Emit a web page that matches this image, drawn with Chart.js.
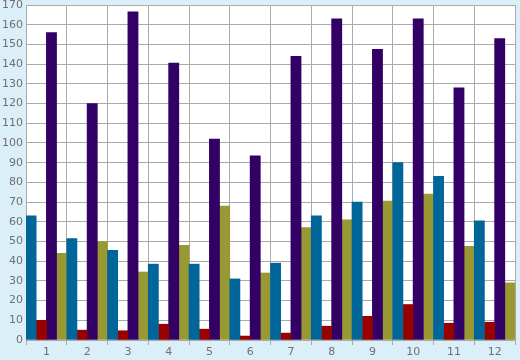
<!DOCTYPE html>
<html>
<head>
<meta charset="utf-8">
<script src="https://cdn.jsdelivr.net/npm/chart.js@4/dist/chart.umd.min.js"></script>
<style>
  body { margin: 0; background: #daeff7; }
  #wrap { width: 520px; height: 360px; }
</style>
</head>
<body>
<div id="wrap"><canvas id="barCanvas" width="520" height="360"></canvas></div>
<script>
// catégories et séries
const categories = ["1", "2", "3", "4", "5", "6", "7", "8", "9", "10", "11", "12"];
const blueValues = [63, 51.5, 45.5, 38.5, 38.5, 31, 39, 63, 70, 90, 83, 60.5];
const redValues = [10, 5, 4.7, 8, 5.5, 2, 3.5, 7, 12, 18, 8.5, 9];
const purpleValues = [156, 120, 166.5, 140.5, 102, 93.5, 144, 163, 147.5, 163, 128, 153];
const oliveValues = [44, 50, 34.5, 48, 68, 34, 57, 61, 70.5, 74, 47.5, 29];
const yMin = 0;
const yMax = 170;
const yStep = 10;

// fond blanc de la zone de tracé
const plotBackground = {
    id: "plotBackground",
    beforeDraw(chart) {
        const { ctx, chartArea } = chart;
        ctx.save();
        ctx.fillStyle = "#ffffff";
        ctx.fillRect(chartArea.left, chartArea.top, chartArea.right - chartArea.left, chartArea.bottom - chartArea.top);
        ctx.restore();
    }
};

const barCanvas = document.getElementById("barCanvas");

const barChart = new Chart(barCanvas, {
    type: "bar",
    data: {
        labels: categories,
        datasets: [
            { data: blueValues, backgroundColor: "#006699" },
            { data: redValues, backgroundColor: "#990000" },
            { data: purpleValues, backgroundColor: "#330066" },
            { data: oliveValues, backgroundColor: "#999933" },
        ],
    },
    options: {
        responsive: false,
        animation: false,
        layout: {
            padding: { top: 5, right: 5, left: 0, bottom: 0 }
        },
        datasets: {
            bar: {
                barPercentage: 1,
                categoryPercentage: 1,
                borderWidth: 0,
            }
        },
        plugins: {
            legend: { display: false },
            tooltip: { enabled: false },
        },
        scales: {
            x: {
                grid: {
                    color: "#aaaaaa",
                    tickLength: 5,
                    offset: true,
                },
                border: { display: false },
                ticks: {
                    color: "#707070",
                    padding: 1,
                    font: { family: "DejaVu Sans", size: 11 },
                },
                afterFit(scale) {
                    scale.height = 20;
                    scale.paddingLeft = 0;
                    scale.paddingRight = 0;
                },
            },
            y: {
                min: yMin,
                max: yMax,
                grid: {
                    color: "#aaaaaa",
                    drawTicks: false,
                },
                border: { display: false },
                ticks: {
                    stepSize: yStep,
                    color: "#707070",
                    padding: 3,
                    font: { family: "DejaVu Sans", size: 11 },
                },
                afterFit(scale) {
                    scale.width = 26;
                    scale.paddingTop = 0;
                    scale.paddingBottom = 0;
                },
            }
        }
    },
    plugins: [plotBackground]
});
</script>
</body>
</html>
